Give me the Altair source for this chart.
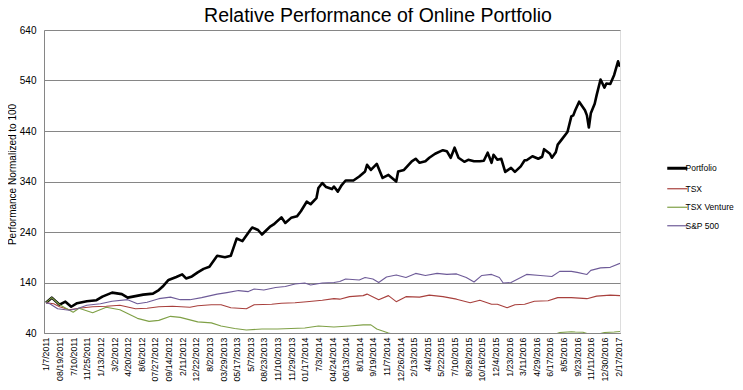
import json
import altair as alt
import pandas as pd

LABELS = ["1/7/2011", "08/19/2011", "7/10/2011", "11/25/2011", "1/13/2012", "3/2/2012",
          "4/20/2012", "8/6/2012", "07/27/2012", "09/14/2012", "2/11/2012", "12/22/2012",
          "8/2/2013", "03/29/2013", "05/17/2013", "5/7/2013", "08/23/2013", "11/10/2013",
          "11/29/2013", "01/17/2014", "7/3/2014", "04/24/2014", "06/13/2014", "8/1/2014",
          "9/19/2014", "11/7/2014", "12/26/2014", "2/13/2015", "4/4/2015", "5/22/2015",
          "7/10/2015", "8/28/2015", "10/16/2015", "12/4/2015", "1/23/2016", "3/11/2016",
          "4/29/2016", "6/17/2016", "8/5/2016", "9/23/2016", "11/11/2016", "12/30/2016",
          "2/17/2017"]

SERIES = ["Portfolio", "TSX", "TSX Venture", "S&P 500"]
COLORS = ["#000000", "#A8403D", "#7FA046", "#6E5B98"]
WIDTHS = [2.6, 1.1, 1.1, 1.1]

PORTFOLIO_WEEK = [0, 3, 7, 10, 13, 16, 21, 26, 29, 34, 39, 42, 46, 50, 55, 58, 60, 63, 67, 70, 72, 75,
                  78, 81, 84, 88, 92, 95, 98, 101, 105, 106, 109, 111, 115, 117, 121, 123, 126, 129,
                  131, 134, 136, 139, 140, 142, 144, 147, 148, 150, 152, 154, 158, 161, 164, 165, 167,
                  170, 173, 176, 180, 181, 184, 188, 190, 192, 195, 197, 200, 204, 206, 208, 210, 212,
                  215, 217, 220, 223, 225, 227, 229, 230, 232, 234, 236, 239, 241, 244, 246, 247, 250,
                  253, 255, 256, 259, 260, 262, 263, 265, 268, 270, 271, 272, 274, 277, 278, 279, 280,
                  282, 283, 285, 287, 288, 290, 292, 294, 295]
PORTFOLIO_VAL = [100, 110, 96, 102, 92, 99, 103, 105, 112, 120, 117, 110, 113, 116, 118, 125, 132, 145,
                 151, 156, 148, 152, 160, 167, 171, 193, 190, 193, 227, 222, 244, 249, 244, 235, 250,
                 255, 269, 258, 268, 271, 281, 300, 295, 307, 327, 337, 329, 325, 330, 320, 333, 342,
                 342, 350, 360, 373, 363, 375, 347, 353, 340, 360, 363, 380, 385, 377, 380, 387, 395,
                 402, 400, 387, 407, 387, 379, 383, 380, 380, 381, 397, 377, 393, 383, 385, 359, 367,
                 359, 370, 382, 382, 390, 385, 389, 404, 395, 387, 398, 413, 423, 438, 469, 471, 481,
                 498, 481, 471, 447, 475, 494, 511, 542, 526, 534, 533, 551, 578, 567]

TSX_WEEK = [0, 4, 7, 12, 17, 24, 31, 38, 46, 52, 58, 65, 74, 78, 85, 90, 95, 103, 107, 116, 121, 128,
            134, 142, 148, 151, 156, 163, 165, 171, 176, 180, 185, 192, 197, 204, 211, 218, 223, 229,
            232, 237, 241, 246, 251, 258, 263, 270, 278, 283, 290, 295]
TSX_VAL = [100, 98, 92, 86, 89, 92, 93, 95, 88, 89, 92, 93, 91, 94, 96, 96, 90, 88, 96, 97, 99, 100,
           102, 105, 108, 107, 112, 114, 117, 106, 114, 102, 112, 111, 115, 112, 107, 100, 105, 97,
           97, 90, 96, 97, 103, 104, 110, 110, 108, 113, 115, 114]

VENTURE_WEEK = [0, 3, 7, 14, 17, 24, 31, 38, 47, 53, 58, 64, 69, 74, 78, 85, 90, 97, 103, 111, 119,
                126, 133, 140, 148, 156, 163, 167, 170, 173, 176, 179, 200, 230, 262, 264, 270, 272,
                276, 278, 284, 287, 292, 295]
VENTURE_VAL = [100, 110, 96, 81, 89, 80, 91, 86, 69, 63, 65, 73, 71, 66, 62, 60, 54, 49, 46, 48, 48,
               49, 50, 54, 52, 54, 56, 56, 48, 44, 40, 37, 34, 33, 38, 41, 42.5, 42, 41.5, 39, 38, 41,
               42, 43]

SP_WEEK = [0, 2, 6, 12, 16, 21, 28, 34, 42, 47, 52, 58, 64, 69, 74, 80, 88, 93, 99, 104, 107, 112,
           118, 123, 128, 133, 136, 142, 148, 151, 154, 161, 164, 168, 171, 175, 180, 185, 190, 195,
           201, 206, 211, 216, 220, 224, 229, 233, 235, 239, 244, 247, 254, 260, 264, 270, 273, 278,
           280, 285, 290, 295]
SP_VAL = [100, 98, 88, 85, 88, 95, 98, 103, 106, 98, 101, 108, 111, 106, 106, 110, 117, 120, 124, 122,
          127, 125, 130, 132, 137, 139, 135, 139, 140, 142, 147, 145, 150, 147, 140, 151, 155, 150,
          158, 154, 158, 156, 157, 150, 141, 154, 156, 150, 139, 140, 150, 156, 154, 152, 162, 162,
          160, 156, 164, 169, 170, 178]

rows = []
for name, weeks, vals in [("Portfolio", PORTFOLIO_WEEK, PORTFOLIO_VAL),
                          ("TSX", TSX_WEEK, TSX_VAL),
                          ("TSX Venture", VENTURE_WEEK, VENTURE_VAL),
                          ("S&P 500", SP_WEEK, SP_VAL)]:
    sw = WIDTHS[SERIES.index(name)]
    for i, (w, v) in enumerate(zip(weeks, vals)):
        rows.append({"week": w, "value": v, "series": name, "order": i, "sw": sw})
df = pd.DataFrame(rows)

label_expr = "%s[round(datum.value / 7)]" % json.dumps(LABELS)
FONT = "Liberation Sans"

chart = alt.Chart(df).mark_line(clip=True, strokeJoin="round").encode(
    x=alt.X("week:Q",
            scale=alt.Scale(domain=[-1, 295], nice=False, zero=False),
            axis=alt.Axis(values=[7 * i for i in range(len(LABELS))], labelExpr=label_expr,
                          labelAngle=-90, labelFontSize=8.8, labelFont=FONT, labelColor="#000",
                          grid=False, ticks=False, labelPadding=4, domainColor="#868686",
                          title=None, labelOverlap=False, labelBound=False, labelFlush=False)),
    y=alt.Y("value:Q",
            scale=alt.Scale(domain=[40, 640], nice=False, zero=False),
            axis=alt.Axis(values=[40, 140, 240, 340, 440, 540, 640], ticks=False,
                          labelFontSize=10, labelFont=FONT, labelColor="#000", labelPadding=8,
                          gridColor="#868686", gridWidth=1, domainColor="#868686",
                          title="Performance Normalized to 100", titleFont=FONT, titleFontSize=10,
                          titleFontWeight="normal", titleColor="#000",
                          titleX=-27, titleY=144, titleAngle=-90, titleBaseline="bottom")),
    color=alt.Color("series:N", scale=alt.Scale(domain=SERIES, range=COLORS),
                    legend=alt.Legend(title=None, orient="none", legendX=629, legendY=134,
                                      symbolType="stroke", symbolSize=400,
                                      labelFont=FONT, labelFontSize=8.5, labelColor="#000",
                                      labelOffset=4, rowPadding=9.5, padding=0,
                                      symbolStrokeWidth=alt.ExprRef(expr="datum.value == 'Portfolio' ? 3 : 1.2"))),
    strokeWidth=alt.StrokeWidth("sw:Q", scale=None),
    detail="series:N",
    order="order:Q",
).properties(
    width=576, height=303,
    title=alt.TitleParams("Relative Performance of Online Portfolio", font=FONT, fontSize=19.5,
                          fontWeight="normal", color="#000", anchor="middle", dx=46, dy=6, offset=5),
    autosize=alt.AutoSizeParams(type="none"),
    padding={"left": 36, "top": 22, "right": 115, "bottom": 50},
).configure_view(stroke=None).configure(background="white")

chart.save("out.html", embed_options={"renderer": "svg", "actions": False})
